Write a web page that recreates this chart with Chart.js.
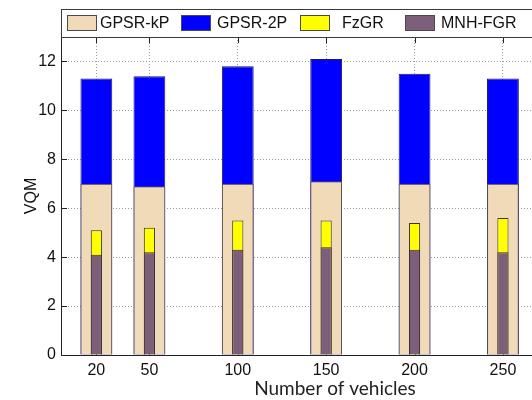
<!DOCTYPE html>
<html>
<head>
<meta charset="utf-8">
<script src="https://cdn.jsdelivr.net/npm/chart.js@4.4.1/dist/chart.umd.min.js"></script>
<style>
  html, body { margin: 0; padding: 0; background: #fff; overflow: hidden; width: 532px; height: 400px; }
  #wrap { position: relative; width: 640px; height: 400px; }
</style>
</head>
<body>
<div id="wrap"><canvas id="c" width="640" height="400"></canvas></div>
<script>
// Number of vehicles on the x axis
const vehicles = [20, 50, 100, 150, 200, 250];
// VQM per routing scheme
const gpsrKP = [7.0, 6.9, 7.0, 7.1, 7.0, 7.0];
const gpsr2P = [11.3, 11.4, 11.8, 12.1, 11.5, 11.3];
const fzGR   = [5.1, 5.2, 5.5, 5.5, 5.4, 5.6];
const mnhFGR = [4.1, 4.2, 4.3, 4.4, 4.3, 4.2];
const yTicks = [0, 2, 4, 6, 8, 10, 12];

const FONT = "'Liberation Sans', Arial, sans-serif";
const pts = arr => vehicles.map((v, i) => ({ x: v, y: arr[i] }));

// Legend drawn as a boxed strip across the top of the axes
const boxLegend = {
  id: 'boxLegend',
  afterDraw(chart) {
    const ctx = chart.ctx;
    const top = 9, bottom = chart.chartArea.top;
    const left = chart.chartArea.left;
    const slots = [
      { sx: 67, tx: 100 },
      { sx: 181, tx: 217 },
      { sx: 300, tx: 342 },
      { sx: 405, tx: 441 }
    ];
    ctx.save();
    ctx.fillStyle = '#fff';
    ctx.fillRect(left, top, chart.width - left, bottom - top);
    ctx.strokeStyle = '#3a3a3a';
    ctx.lineWidth = 1;
    ctx.strokeRect(left + 0.5, top + 0.5, chart.width, bottom - top);
    ctx.font = '16px ' + FONT;
    ctx.textBaseline = 'middle';
    chart.data.datasets.forEach((ds, i) => {
      const s = slots[i];
      const cy = (top + bottom) / 2;
      ctx.fillStyle = ds.backgroundColor;
      ctx.fillRect(s.sx, cy - 8, 30, 16);
      ctx.strokeStyle = '#4a4a4a';
      ctx.strokeRect(s.sx + 0.5, cy - 8 + 0.5, 29, 15);
      ctx.fillStyle = '#111';
      ctx.fillText(ds.label, s.tx, cy + 1);
    });
    ctx.restore();
  }
};

// Short inward tick marks on the left, bottom and top edges of the axes
const inwardTicks = {
  id: 'inwardTicks',
  beforeDatasetsDraw(chart) {
    const { ctx, chartArea: a, scales: { x, y } } = chart;
    const len = 6;
    ctx.save();
    ctx.strokeStyle = '#222';
    ctx.lineWidth = 1;
    ctx.beginPath();
    yTicks.forEach(v => {
      const py = Math.round(y.getPixelForValue(v)) + 0.5;
      ctx.moveTo(a.left, py); ctx.lineTo(a.left + len, py);
    });
    vehicles.forEach(v => {
      const px = Math.round(x.getPixelForValue(v)) + 0.5;
      ctx.moveTo(px, a.bottom); ctx.lineTo(px, a.bottom - len);
      ctx.moveTo(px, a.top); ctx.lineTo(px, a.top + len);
    });
    ctx.stroke();
    ctx.restore();
  }
};

new Chart(document.getElementById('c'), {
  type: 'bar',
  data: {
    datasets: [
      { label: 'GPSR-kP', data: pts(gpsrKP), backgroundColor: '#F0DAB8', borderColor: '#5a4e44', borderWidth: 1, barPercentage: 0.6, order: 3 },
      { label: 'GPSR-2P', data: pts(gpsr2P), backgroundColor: '#0000FF', borderColor: '#1a1a6a', borderWidth: 1, barPercentage: 0.6, order: 4 },
      { label: 'FzGR', data: pts(fzGR), backgroundColor: '#FFFF00', borderColor: '#3a3a10', borderWidth: 1, barPercentage: 0.21, order: 2 },
      { label: 'MNH-FGR', data: pts(mnhFGR), backgroundColor: '#7E5F7B', borderColor: '#3a2a38', borderWidth: 1, barPercentage: 0.21, order: 1 }
    ]
  },
  options: {
    responsive: false,
    animation: false,
    devicePixelRatio: 1,
    layout: { padding: { top: 37, right: 31, left: 0, bottom: 0 } },
    datasets: { bar: { grouped: false, categoryPercentage: 1, borderSkipped: 'start' } },
    plugins: { legend: { display: false }, tooltip: { enabled: false } },
    scales: {
      x: {
        type: 'linear',
        offset: false,
        min: 0,
        max: 310,
        afterBuildTicks: s => { s.ticks = vehicles.map(v => ({ value: v })); },
        afterFit: s => { s.height = 45; },
        grid: { color: '#9a9a9a', lineWidth: 1, drawTicks: false, offset: false },
        border: { display: true, color: '#222', width: 1, dash: [1, 2] },
        ticks: { color: '#111', padding: 6, maxRotation: 0, font: { family: FONT, size: 16 } },
        title: { display: true, text: 'Number of vehicles', color: '#222', font: { family: 'Lato', size: 19 }, padding: { top: 0, bottom: 0 } }
      },
      y: {
        min: 0,
        max: 13,
        afterBuildTicks: s => { s.ticks = yTicks.map(v => ({ value: v })); },
        afterFit: s => { s.width = 61; },
        grid: { color: '#9a9a9a', lineWidth: 1, drawTicks: false },
        border: { display: true, color: '#222', width: 1, dash: [1, 2] },
        ticks: { color: '#111', padding: 5, font: { family: FONT, size: 16 } },
        title: { display: true, text: 'VQM', color: '#111', font: { family: FONT, size: 16 }, padding: { top: 22, bottom: 0 } }
      }
    }
  },
  plugins: [inwardTicks, boxLegend]
});
</script>
</body>
</html>
